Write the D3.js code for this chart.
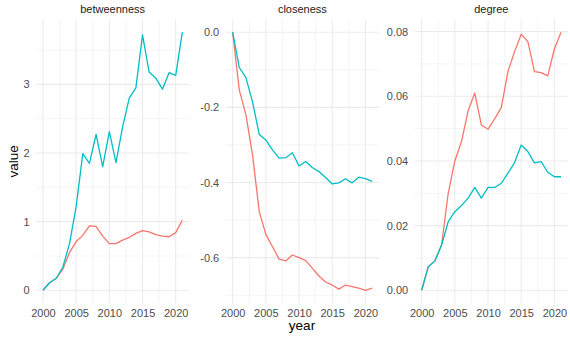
<!DOCTYPE html>
<html><head><meta charset="utf-8">
<script src="https://cdn.jsdelivr.net/npm/d3@7/dist/d3.min.js"></script>
<style>body{margin:0;background:#fff}svg{display:block;font-family:"Liberation Sans",Arial,Helvetica,sans-serif}</style>
</head><body><svg id="c" width="570" height="337"></svg>
<script>
const years = [2000,2001,2002,2003,2004,2005,2006,2007,2008,2009,2010,2011,2012,2013,2014,2015,2016,2017,2018,2019,2020,2021];
const facets = ["betweenness","closeness","degree"];

const betweennessRed  = [0,0.11,0.175,0.31,0.55,0.71,0.80,0.94,0.93,0.79,0.68,0.68,0.73,0.77,0.83,0.87,0.85,0.81,0.79,0.78,0.84,1.02];
const betweennessTeal = [0,0.11,0.175,0.34,0.68,1.22,1.99,1.85,2.27,1.80,2.31,1.86,2.38,2.80,2.95,3.72,3.18,3.09,2.93,3.17,3.13,3.76];
const closenessRed    = [0,-0.154,-0.220,-0.327,-0.477,-0.538,-0.571,-0.604,-0.609,-0.593,-0.600,-0.608,-0.628,-0.649,-0.665,-0.673,-0.684,-0.673,-0.677,-0.681,-0.687,-0.681];
const closenessTeal   = [0,-0.094,-0.121,-0.186,-0.272,-0.287,-0.313,-0.335,-0.334,-0.321,-0.356,-0.344,-0.360,-0.371,-0.387,-0.404,-0.401,-0.390,-0.401,-0.386,-0.390,-0.397];
const degreeRed       = [0,0.0073,0.0091,0.014,0.030,0.040,0.046,0.0555,0.061,0.0511,0.0498,0.053,0.0565,0.0676,0.0738,0.0792,0.0769,0.0676,0.0673,0.0663,0.0746,0.0798];
const degreeTeal      = [0,0.0073,0.0091,0.014,0.0212,0.0243,0.0262,0.0285,0.0318,0.0285,0.0318,0.0318,0.0331,0.0362,0.0395,0.0449,0.0429,0.0394,0.0398,0.0365,0.0351,0.0351];

const xTicks = [2000,2005,2010,2015,2020];
const xMinor = [2002.5,2007.5,2012.5,2017.5];
const yTicks = [[0,1,2,3],[-0.6,-0.4,-0.2,0],[0,0.02,0.04,0.06,0.08]];
const yTickLabels = [["0","1","2","3"],["-0.6","-0.4","-0.2","0.0"],["0.00","0.02","0.04","0.06","0.08"]];
const yMinor = [[0.5,1.5,2.5,3.5],[-0.7,-0.5,-0.3,-0.1],[0.01,0.03,0.05,0.07]];
const seriesRed = [betweennessRed, closenessRed, degreeRed];
const seriesTeal = [betweennessTeal, closenessTeal, degreeTeal];
const colors = ["#F8766D","#00BFC4"];

(function(){
const svg = d3.select("#c");
const lefts = [36, 225.7, 414.7];
const pw = 153.3, pTop = 19.3, pBottom = 303.2;
const grid = "#EBEBEB";

const span = years[years.length-1] - years[0];
const xDomain = [years[0] - 0.05*span, years[years.length-1] + 0.05*span];

facets.forEach((name, i) => {
  const L = lefts[i];
  const x = d3.scaleLinear().domain(xDomain).range([L, L + pw]);
  const all = seriesRed[i].concat(seriesTeal[i]);
  const [mn, mx] = d3.extent(all);
  const pad = (mx - mn) * 0.05;
  const y = d3.scaleLinear().domain([mn - pad, mx + pad]).range([pBottom, pTop]);
  const g = svg.append("g");

  xMinor.forEach(v => g.append("line").attr("x1", x(v)).attr("x2", x(v)).attr("y1", pTop).attr("y2", pBottom).attr("stroke", grid).attr("stroke-width", 0.55));
  yMinor[i].forEach(v => g.append("line").attr("x1", L).attr("x2", L + pw).attr("y1", y(v)).attr("y2", y(v)).attr("stroke", grid).attr("stroke-width", 0.55));
  xTicks.forEach(v => g.append("line").attr("x1", x(v)).attr("x2", x(v)).attr("y1", pTop).attr("y2", pBottom).attr("stroke", grid).attr("stroke-width", 1.07));
  yTicks[i].forEach(v => g.append("line").attr("x1", L).attr("x2", L + pw).attr("y1", y(v)).attr("y2", y(v)).attr("stroke", grid).attr("stroke-width", 1.07));

  const xa = g.append("g").attr("transform", `translate(0,${pBottom})`)
    .call(d3.axisBottom(x).tickValues(xTicks).tickSize(0).tickPadding(0).tickFormat(d3.format("d")));
  xa.select(".domain").remove();
  xa.selectAll("text").attr("dy", null).attr("y", 13.4).attr("fill", "#4D4D4D").attr("font-size", "11px");
  xa.attr("font-family", null).attr("font-size", null);

  const ya = g.append("g").attr("transform", `translate(${L},0)`)
    .call(d3.axisLeft(y).tickValues(yTicks[i]).tickSize(0).tickPadding(6.5).tickFormat((d, k) => yTickLabels[i][k]));
  ya.select(".domain").remove();
  ya.selectAll("text").attr("fill", "#4D4D4D").attr("font-size", "11px");
  ya.attr("font-family", null).attr("font-size", null);

  g.append("text").attr("x", L + pw / 2).attr("y", 13).attr("text-anchor", "middle")
    .attr("font-size", "11px").attr("fill", "#1A1A1A").text(name);

  const line = d3.line().x((d, k) => x(years[k])).y(d => y(d));
  [seriesRed[i], seriesTeal[i]].forEach((s, k) => {
    g.append("path").datum(s).attr("d", line).attr("fill", "none")
      .attr("stroke", colors[k]).attr("stroke-width", 1.3).attr("stroke-linejoin", "round");
  });
});

svg.append("text").attr("transform", `translate(18,${(pTop + pBottom) / 2}) rotate(-90)`)
  .attr("text-anchor", "middle").attr("font-size", "13.5px").attr("fill", "#000").text("value");
svg.append("text").attr("x", (lefts[0] + lefts[2] + pw) / 2).attr("y", 329.5)
  .attr("text-anchor", "middle").attr("font-size", "13.5px").attr("fill", "#000").text("year");
})();
</script></body></html>
